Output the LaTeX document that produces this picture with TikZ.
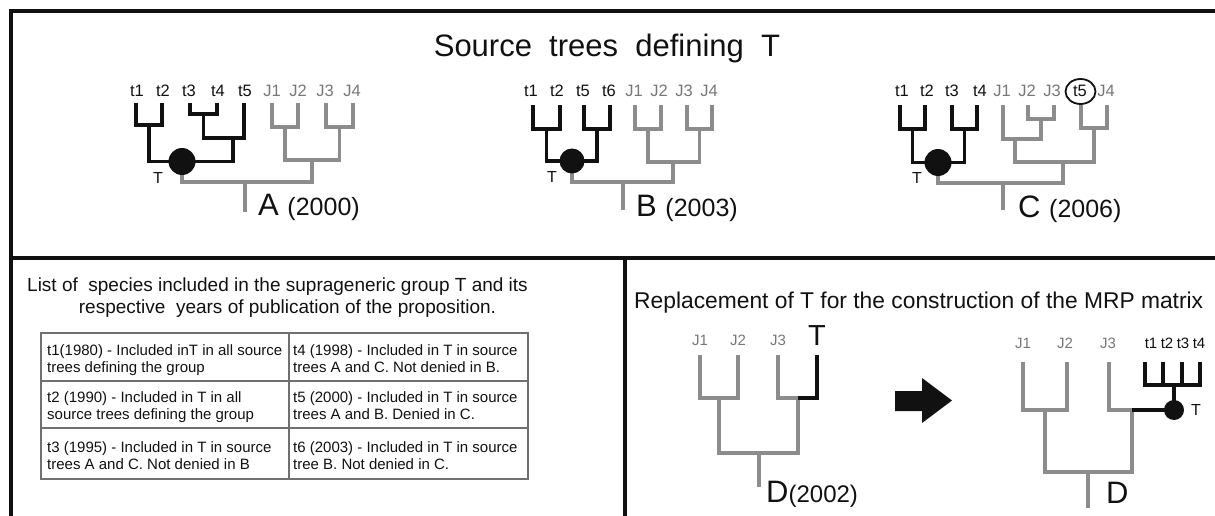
\documentclass[tikz,border=0pt]{standalone}
\usepackage{fontspec}
\setmainfont{Liberation Sans}
\definecolor{gr}{HTML}{8C8C8C}
\definecolor{bk}{HTML}{111111}
\definecolor{lab}{HTML}{777777}
\definecolor{tab}{HTML}{707070}
\begin{document}
\begin{tikzpicture}[x=1pt,y=-1pt,
  blk/.style={line width=3.8pt, draw=bk, line cap=butt, line join=miter},
  gry/.style={line width=3.8pt, draw=gr, line cap=butt, line join=miter},
  tdot/.style={circle, fill=bk, inner sep=0pt, minimum size=#1},
  tlab/.style={font=\fontsize{16.5}{16.5}\selectfont, anchor=base, inner sep=0pt, text=bk},
  jlab/.style={tlab, text=lab},
  tT/.style={font=\fontsize{16}{16}\selectfont, inner sep=0pt, text=bk},
  yr/.style={anchor=base west, inner sep=0pt, text=bk},
  cell/.style={anchor=north west, inner sep=0pt, align=left, font=\fontsize{15}{17.5}\selectfont, text=bk},
  head/.style={inner sep=0pt, font=\fontsize{19}{20}\selectfont, text=bk}
]
\useasboundingbox (0,0) rectangle (1215,516);

% ---------- frame ----------
\draw[line width=3.5pt, draw=bk, line join=miter] (11,516) -- (11,11) -- (1215,11);
\draw[line width=4pt, draw=bk] (11,258) -- (1215,258);
\draw[line width=4pt, draw=bk] (624.5,258) -- (624.5,516);

% ---------- title ----------
\node[anchor=base, inner sep=0pt, font=\fontsize{31}{31}\selectfont, text=bk] (title) at (607,57) {Source\ \ trees\ \ defining\ \ T};

% ---------- tree A ----------
\coordinate (A-t1) at (136,103);
\coordinate (A-t2) at (162,103);
\coordinate (A-t3) at (190,103);
\coordinate (A-t4) at (217,103);
\coordinate (A-t5) at (244,103);
\coordinate (A-J1) at (272,103);
\coordinate (A-J2) at (298,103);
\coordinate (A-J3) at (326,103);
\coordinate (A-J4) at (353,103);
\coordinate (A-n12) at (149,125);
\coordinate (A-n34) at (203.5,114);
\coordinate (A-n345) at (233,138);
\coordinate (A-Tc) at (182,161.5);
\coordinate (A-J12) at (285,127);
\coordinate (A-J34) at (339.5,127);
\coordinate (A-nJ) at (312,160);
\coordinate (A-root) at (245,182);
\coordinate (A-stub) at (245,212);
\draw[gry] (A-J1) |- (A-J12) -| (A-J2);
\draw[gry] (A-J3) |- (A-J34) -| (A-J4);
\draw[gry] (A-J12) |- (A-nJ) -| (A-J34);
\draw[gry] (A-Tc) |- (A-root) -| (A-nJ);
\draw[gry] (A-root) -- (A-stub);
\draw[blk] (A-t1) |- (A-n12) -| (A-t2);
\draw[blk] (A-t3) |- (A-n34) -| (A-t4);
\draw[blk] (A-n34) |- (A-n345) -| (A-t5);
\draw[blk] (A-n12) |- (A-Tc) -| (A-n345);
\node[tdot=27pt] (A-T) at (A-Tc) {};
\node[tlab] (A-l1) at (137,97) {t1};
\node[tlab] (A-l2) at (163,97) {t2};
\node[tlab] (A-l3) at (189,97) {t3};
\node[tlab] (A-l4) at (218,97) {t4};
\node[tlab] (A-l5) at (245,97) {t5};
\node[jlab] (A-l6) at (272,97) {J1};
\node[jlab] (A-l7) at (298,97) {J2};
\node[jlab] (A-l8) at (325,97) {J3};
\node[jlab] (A-l9) at (352,97) {J4};
\node[tT] (A-Tl) at (158,178) {T};
\node[yr] (A-name) at (258,215) {\fontsize{31}{31}\selectfont A\ \fontsize{25}{25}\selectfont(2000)};

% ---------- tree B ----------
\coordinate (B-t1) at (533,105);
\coordinate (B-t2) at (560,105);
\coordinate (B-t5) at (584,105);
\coordinate (B-t6) at (610,105);
\coordinate (B-J1) at (635,105);
\coordinate (B-J2) at (661,105);
\coordinate (B-J3) at (687,105);
\coordinate (B-J4) at (712,105);
\coordinate (B-n12) at (546.5,129);
\coordinate (B-n56) at (597,129);
\coordinate (B-Tc) at (572,161);
\coordinate (B-J12) at (648,129);
\coordinate (B-J34) at (699.5,129);
\coordinate (B-nJ) at (673,162);
\coordinate (B-root) at (623,182);
\coordinate (B-stub) at (623,210);
\draw[gry] (B-J1) |- (B-J12) -| (B-J2);
\draw[gry] (B-J3) |- (B-J34) -| (B-J4);
\draw[gry] (B-J12) |- (B-nJ) -| (B-J34);
\draw[gry] (B-Tc) |- (B-root) -| (B-nJ);
\draw[gry] (B-root) -- (B-stub);
\draw[blk] (B-t1) |- (B-n12) -| (B-t2);
\draw[blk] (B-t5) |- (B-n56) -| (B-t6);
\draw[blk] (B-n12) |- (B-Tc) -| (B-n56);
\node[tdot=25pt] (B-T) at (B-Tc) {};
\node[tlab] (B-l1) at (531,97) {t1};
\node[tlab] (B-l2) at (557,97) {t2};
\node[tlab] (B-l3) at (583,97) {t5};
\node[tlab] (B-l4) at (609,97) {t6};
\node[jlab] (B-l5) at (634,97) {J1};
\node[jlab] (B-l6) at (659,97) {J2};
\node[jlab] (B-l7) at (684,97) {J3};
\node[jlab] (B-l8) at (709,97) {J4};
\node[tT] (B-Tl) at (552,177) {T};
\node[yr] (B-name) at (636,216) {\fontsize{31}{31}\selectfont B\ \fontsize{25}{25}\selectfont(2003)};

% ---------- tree C ----------
\coordinate (C-t1) at (900,105);
\coordinate (C-t2) at (925,105);
\coordinate (C-t3) at (952,105);
\coordinate (C-t4) at (977,105);
\coordinate (C-J1) at (1003,105);
\coordinate (C-J2) at (1028,105);
\coordinate (C-J3) at (1054,105);
\coordinate (C-t5) at (1081,105);
\coordinate (C-J4) at (1107,105);
\coordinate (C-n12) at (912.5,129);
\coordinate (C-n34) at (964.5,129);
\coordinate (C-Tc) at (938,162.5);
\coordinate (C-J23) at (1041,119);
\coordinate (C-J123) at (1015,139);
\coordinate (C-t5J4) at (1094,128);
\coordinate (C-nJ) at (1063,162);
\coordinate (C-root) at (1003,183);
\coordinate (C-stub) at (1003,210);
\draw[gry] (C-J2) |- (C-J23) -| (C-J3);
\draw[gry] (C-J1) |- (C-J123) -| (C-J23);
\draw[gry] (C-t5) |- (C-t5J4) -| (C-J4);
\draw[gry] (C-J123) |- (C-nJ) -| (C-t5J4);
\draw[gry] (C-Tc) |- (C-root) -| (C-nJ);
\draw[gry] (C-root) -- (C-stub);
\draw[blk] (C-t1) |- (C-n12) -| (C-t2);
\draw[blk] (C-t3) |- (C-n34) -| (C-t4);
\draw[blk] (C-n12) |- (C-Tc) -| (C-n34);
\node[tdot=27pt] (C-T) at (C-Tc) {};
\node[tlab] (C-l1) at (902,97) {t1};
\node[tlab] (C-l2) at (927,97) {t2};
\node[tlab] (C-l3) at (952,97) {t3};
\node[tlab] (C-l4) at (980,97) {t4};
\node[jlab] (C-l5) at (1002,97) {J1};
\node[jlab] (C-l6) at (1027,97) {J2};
\node[jlab] (C-l7) at (1052,97) {J3};
\node[tlab] (C-l8) at (1080,97) {t5};
\node[jlab] (C-l9) at (1106,97) {J4};
\draw[line width=1.8pt, draw=bk] (1080.5,91.5) ellipse (15pt and 12.5pt);
\node[tT] (C-Tl) at (917,178) {T};
\node[yr] (C-name) at (1018,217) {\fontsize{31}{31}\selectfont C\ \fontsize{25}{25}\selectfont(2006)};

% ---------- species list ----------
\node[head, anchor=base] (list1) at (277.5,291) {List of\ \ species included in the suprageneric group T and its};
\node[head, anchor=base] (list2) at (287.5,313) {respective\ \ years of publication of the proposition.};
\draw[line width=1.3pt, draw=tab] (41,333) rectangle (528,479);
\draw[line width=1.3pt, draw=tab] (289,333) -- (289,479);
\draw[line width=1.3pt, draw=tab] (41,381) -- (528,381);
\draw[line width=1.3pt, draw=tab] (41,428) -- (528,428);
\node[cell] (c11) at (47,344) {t1(1980) - Included inT in all source\\trees defining the group};
\node[cell] (c12) at (293,344) {t4 (1998) - Included in T in source\\trees A and C. Not denied in B.};
\node[cell] (c21) at (47,391) {t2 (1990) - Included in T in all\\source trees defining the group};
\node[cell] (c22) at (293,391) {t5 (2000) - Included in T in source\\trees A and B. Denied in C.};
\node[cell] (c31) at (47,441) {t3 (1995) - Included in T in source\\trees A and C. Not denied in B};
\node[cell] (c32) at (293,441) {t6 (2003) - Included in T in source\\tree B. Not denied in C.};

% ---------- replacement ----------
\node[inner sep=0pt, text=bk, font=\fontsize{22.8}{23}\selectfont, anchor=base west] (repl) at (634,308) {Replacement of T for the construction of the MRP matrix};

% tree D (before)
\coordinate (D-J1) at (700,355);
\coordinate (D-J2) at (738,355);
\coordinate (D-J3) at (778,355);
\coordinate (D-T) at (817,355);
\coordinate (D-J12) at (719,398);
\coordinate (D-J3T) at (798,398);
\coordinate (D-n) at (759,453);
\coordinate (D-stub) at (759,487);
\draw[gry] (D-J1) |- (D-J12) -| (D-J2);
\draw[gry] (D-J3) |- (D-J3T);
\draw[gry] (D-J12) |- (D-n) -| (D-J3T);
\draw[gry] (D-n) -- (D-stub);
\draw[blk] (D-J3T) -| (D-T);
\node[jlab, font=\fontsize{15}{15}\selectfont] (D-l1) at (700,345) {J1};
\node[jlab, font=\fontsize{15}{15}\selectfont] (D-l2) at (738,345) {J2};
\node[jlab, font=\fontsize{15}{15}\selectfont] (D-l3) at (778,345) {J3};
\node[tlab, font=\fontsize{29}{29}\selectfont] (D-lT) at (817,345) {T};
\node[yr] (D-name) at (766,502) {\fontsize{31}{31}\selectfont D\fontsize{24}{24}\selectfont(2002)};

% arrow
\fill[bk] (895,391) -- (922,391) -- (922,378) -- (952,400.5) -- (922,423) -- (922,411) -- (895,411) -- cycle;

% tree D (after)
\coordinate (R-J1) at (1023,362);
\coordinate (R-J2) at (1067,362);
\coordinate (R-J3) at (1109,362);
\coordinate (R-J12) at (1045,410);
\coordinate (R-J3T) at (1132,410);
\coordinate (R-n) at (1088,472);
\coordinate (R-stub) at (1088,508);
\coordinate (R-t1) at (1145,362);
\coordinate (R-t2) at (1163,362);
\coordinate (R-t3) at (1182,362);
\coordinate (R-t4) at (1200,362);
\coordinate (R-comb) at (1174,385);
\coordinate (R-Tc) at (1174,410);
\draw[gry] (R-J1) |- (R-J12) -| (R-J2);
\draw[gry] (R-J3) |- (R-J3T);
\draw[gry] (R-J12) |- (R-n) -| (R-J3T);
\draw[gry] (R-n) -- (R-stub);
\draw[blk] (R-J3T) -- (R-Tc);
\draw[blk] (R-t1) |- (R-comb) -| (R-t4);
\draw[blk] (R-t2) -- (R-t2 |- R-comb);
\draw[blk] (R-t3) -- (R-t3 |- R-comb);
\draw[blk] (R-comb) -- (R-Tc);
\node[tdot=20pt] (R-T) at (R-Tc) {};
\node[jlab, font=\fontsize{15}{15}\selectfont] (R-l1) at (1023,348) {J1};
\node[jlab, font=\fontsize{15}{15}\selectfont] (R-l2) at (1065,348) {J2};
\node[jlab, font=\fontsize{15}{15}\selectfont] (R-l3) at (1108,348) {J3};
\node[tlab, font=\fontsize{15}{15}\selectfont] (R-l4) at (1151,348) {t1};
\node[tlab, font=\fontsize{15}{15}\selectfont] (R-l5) at (1167,348) {t2};
\node[tlab, font=\fontsize{15}{15}\selectfont] (R-l6) at (1183,348) {t3};
\node[tlab, font=\fontsize{15}{15}\selectfont] (R-l7) at (1199,348) {t4};
\node[tT] (R-Tl) at (1196,410) {T};
\node[yr] (R-name) at (1106,503) {\fontsize{31}{31}\selectfont D};
\end{tikzpicture}
\end{document}
